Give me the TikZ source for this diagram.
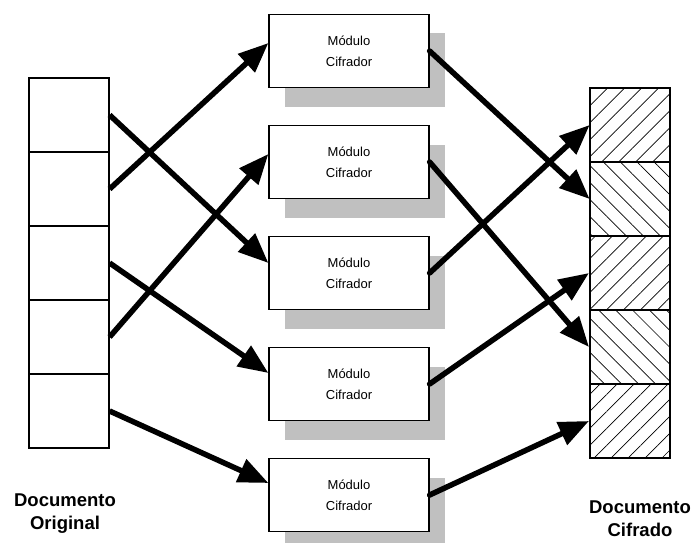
\documentclass[tikz,border=0pt]{standalone}
\usepackage{fontspec}
\setmainfont{Liberation Sans}
\usetikzlibrary{arrows.meta, shadows, patterns.meta, positioning}
\definecolor{shadowgray}{HTML}{C0C0C0}

\tikzset{
  cell/.style={draw, line width=1.2pt, minimum width=80pt, minimum height=74pt, inner sep=0pt},
  ccell/.style={draw, line width=2pt, minimum width=80pt, minimum height=74pt, inner sep=0pt},
  fwd/.style={pattern={Lines[angle=45,distance=12pt,line width=0.7pt]}},
  bwd/.style={pattern={Lines[angle=-45,distance=12pt,line width=0.7pt]}},
  module/.style={draw, line width=1.2pt, fill=white, minimum width=160pt, minimum height=73pt,
    inner sep=0pt, align=center, font=\fontsize{13}{21}\selectfont,
    drop shadow={shadow xshift=16pt, shadow yshift=-19pt, fill=shadowgray, opacity=1}},
  title/.style={align=center, inner sep=1pt, font=\fontsize{18.5}{23}\selectfont\bfseries},
}

\begin{document}
\begin{tikzpicture}[x=1pt,y=-1pt,node distance=74pt,->,>={Triangle[length=30pt,width=24pt]},every edge/.append style={line width=5.5pt}]
	\useasboundingbox (0,0) rectangle (693,543);
	
	% documento original
	\node[cell] (o1) at (69,115) {};
	\node[cell] (o2) [below of=o1] {};
	\node[cell] (o3) [below of=o2] {};
	\node[cell] (o4) [below of=o3] {};
	\node[cell] (o5) [below of=o4] {};
	
	% modulos
	\node[module] (m1) at (349,51) {Módulo\\Cifrador};
	\node[module] (m2) [node distance=111pt,below of=m1] {Módulo\\Cifrador};
	\node[module] (m3) [node distance=111pt,below of=m2] {Módulo\\Cifrador};
	\node[module] (m4) [node distance=111pt,below of=m3] {Módulo\\Cifrador};
	\node[module] (m5) [node distance=111pt,below of=m4] {Módulo\\Cifrador};
	
	% documento cifrado
	\node[ccell,fwd] (c1) at (630,125) {};
	\node[ccell,bwd] (c2) [below of=c1] {};
	\node[ccell,fwd] (c3) [below of=c2] {};
	\node[ccell,bwd] (c4) [below of=c3] {};
	\node[ccell,fwd] (c5) [below of=c4] {};
	
	\node[title] (orig) at (65,514) {Documento\\Original};
	\node[title] (cifr) at (640,519) {Documento\\Cifrado};
	
	\path(o1.east) edge[->] ([yshift=10pt]m3.west);
	\path(o2.east) edge[->] ([yshift=8pt]m1.west);
	\path(o3.east) edge[->] ([yshift=11pt]m4.west);
	\path(o4.east) edge[->] ([yshift=8pt]m2.west);
	\path(o5.east) edge[->] ([yshift=12pt]m5.west);
	
	\path(m1.east) edge[->,line cap=round] (c2.west);
	\path(m2.east) edge[->,line cap=round] (c4.west);
	\path(m3.east) edge[->,line cap=round] (c1.west);
	\path(m4.east) edge[->,line cap=round] (c3.west);
	\path(m5.east) edge[->,line cap=round] (c5.west);
\end{tikzpicture}
\end{document}
